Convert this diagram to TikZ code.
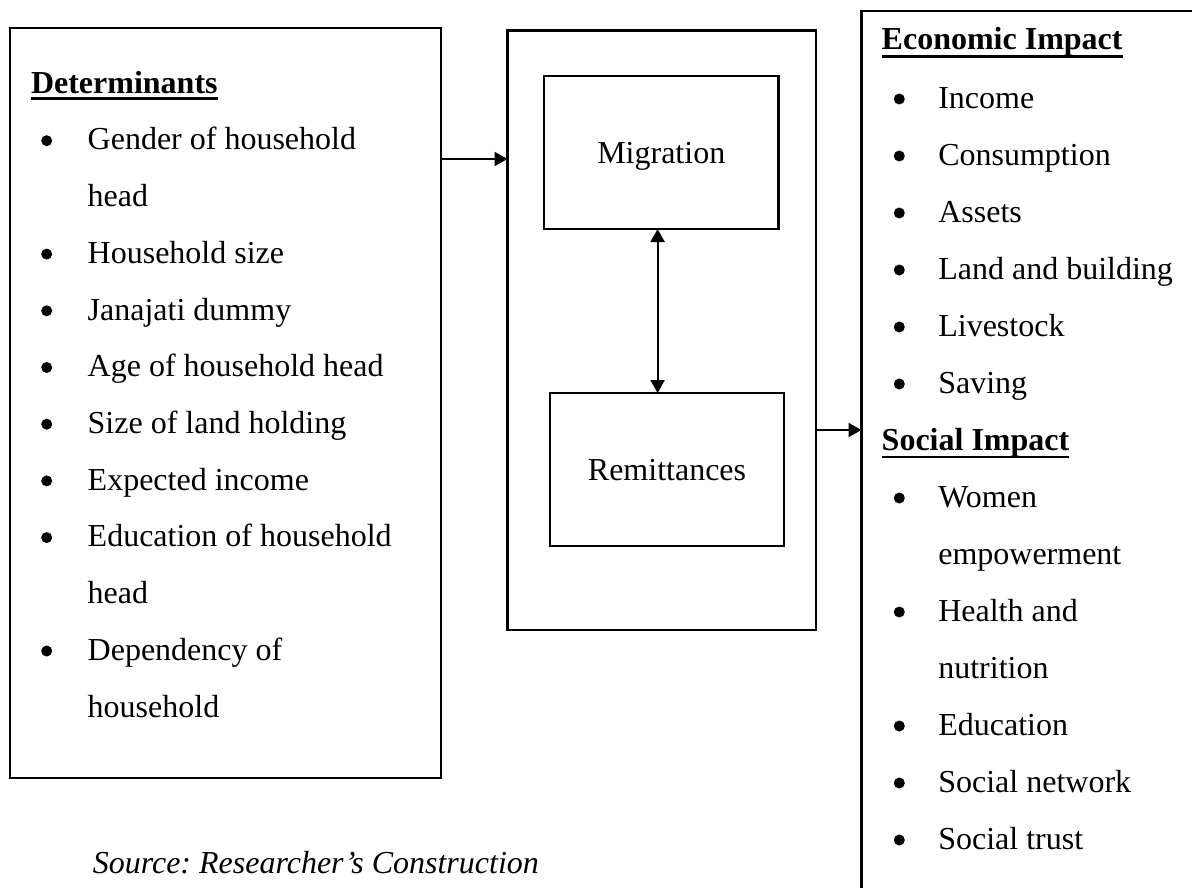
\documentclass[tikz,border=0pt]{standalone}
\usepackage{fontspec}
\setmainfont{Liberation Serif}
\usetikzlibrary{arrows.meta}
\begin{document}
\frenchspacing
\begin{tikzpicture}[x=1pt,y=-1pt,
  every node/.style={font=\fontsize{32}{38}\selectfont, inner sep=0pt, outer sep=0pt},
  frame/.style={draw, line width=2.3pt, rectangle},
  inbox/.style={frame, text height=22pt, text depth=0pt},
  itemtext/.style={anchor=base west},
  heading/.style={anchor=base west, font=\fontsize{32}{38}\selectfont\bfseries},
  dot/.style={circle, fill, minimum size=11pt},
  arr/.style={line width=2.1pt, -{Triangle[length=13pt,width=14pt]}},
  darr/.style={line width=2.1pt, {Triangle[length=13pt,width=14pt]}-{Triangle[length=13pt,width=14pt]}},
  uline/.style={line width=2.6pt}
]
\path[use as bounding box, clip] (0,0) rectangle (1192,888);

% boxes
\node[frame, minimum width=431pt, minimum height=750pt] (det) at (225.5,403) {};
\node[frame, minimum width=308.5pt, minimum height=599.5pt] (mid) at (661.75,330.25) {};
\node[inbox, minimum width=234.5pt, minimum height=153pt] (mig) at (661.25,152.5) {Migration};
\node[inbox, minimum width=234pt, minimum height=153pt] (rem) at (667,469.5) {Remittances};
\node[frame, minimum width=388.5pt, minimum height=939pt] (imp) at (1055.75,480.5) {};

% left list
\node[heading] (hdet) at (31,93.3) {Determinants};
\draw[uline] ([yshift=-5.5pt]hdet.base west) -- ([yshift=-5.5pt]hdet.base east);
\node[dot] (lb0) at (46.7,140.7) {};
\node[itemtext] (l0) at (87.7,150) {Gender of household};
\node[itemtext] (l1) at (87.7,206.7) {head};
\node[dot] (lb2) at (46.7,254.1) {};
\node[itemtext] (l2) at (87.7,263.4) {Household size};
\node[dot] (lb3) at (46.7,310.8) {};
\node[itemtext] (l3) at (87.7,320.1) {Janajati dummy};
\node[dot] (lb4) at (46.7,367.5) {};
\node[itemtext] (l4) at (87.7,376.8) {Age of household head};
\node[dot] (lb5) at (46.7,424.2) {};
\node[itemtext] (l5) at (87.7,433.5) {Size of land holding};
\node[dot] (lb6) at (46.7,480.9) {};
\node[itemtext] (l6) at (87.7,490.2) {Expected income};
\node[dot] (lb7) at (46.7,537.6) {};
\node[itemtext] (l7) at (87.7,546.9) {Education of household};
\node[itemtext] (l8) at (87.7,603.6) {head};
\node[dot] (lb9) at (46.7,651) {};
\node[itemtext] (l9) at (87.7,660.3) {Dependency of};
\node[itemtext] (l10) at (87.7,717) {household};

% right list
\node[heading] (heco) at (881.7,50) {Economic Impact};
\draw[uline] ([yshift=-6.5pt]heco.base west) -- ([yshift=-6.5pt]heco.base east);
\node[dot] (rb0) at (899.3,99) {};
\node[itemtext] (r0) at (938.3,108.3) {Income};
\node[dot] (rb1) at (899.3,156) {};
\node[itemtext] (r1) at (938.3,165.3) {Consumption};
\node[dot] (rb2) at (899.3,213) {};
\node[itemtext] (r2) at (938.3,222.3) {Assets};
\node[dot] (rb3) at (899.3,270) {};
\node[itemtext] (r3) at (938.3,279.3) {Land and building};
\node[dot] (rb4) at (899.3,327) {};
\node[itemtext] (r4) at (938.3,336.3) {Livestock};
\node[dot] (rb5) at (899.3,384) {};
\node[itemtext] (r5) at (938.3,393.3) {Saving};
\node[heading] (hsoc) at (881.7,450.3) {Social Impact};
\draw[uline] ([yshift=-6.5pt]hsoc.base west) -- ([yshift=-6.5pt]hsoc.base east);
\node[dot] (rb7) at (899.3,498) {};
\node[itemtext] (r7) at (938.3,507.3) {Women};
\node[itemtext] (r8) at (938.3,564.3) {empowerment};
\node[dot] (rb9) at (899.3,612) {};
\node[itemtext] (r9) at (938.3,621.3) {Health and};
\node[itemtext] (r10) at (938.3,678.3) {nutrition};
\node[dot] (rb11) at (899.3,726) {};
\node[itemtext] (r11) at (938.3,735.3) {Education};
\node[dot] (rb12) at (899.3,783) {};
\node[itemtext] (r12) at (938.3,792.3) {Social network};
\node[dot] (rb13) at (899.3,840) {};
\node[itemtext] (r13) at (938.3,849.3) {Social trust};

% source
\node[anchor=base west, font=\fontsize{32}{38}\selectfont\itshape] (src) at (92.8,873) {Source: Researcher’s Construction};

% connectors
\coordinate (a1) at (0,159);
\draw[arr] (det.east |- a1) -- (mid.west |- a1);
\coordinate (a2) at (0,430);
\draw[arr] (mid.east |- a2) -- (imp.west |- a2);
\coordinate (a3) at (657.6,0);
\draw[darr] (mig.south -| a3) -- (rem.north -| a3);
\end{tikzpicture}
\end{document}
